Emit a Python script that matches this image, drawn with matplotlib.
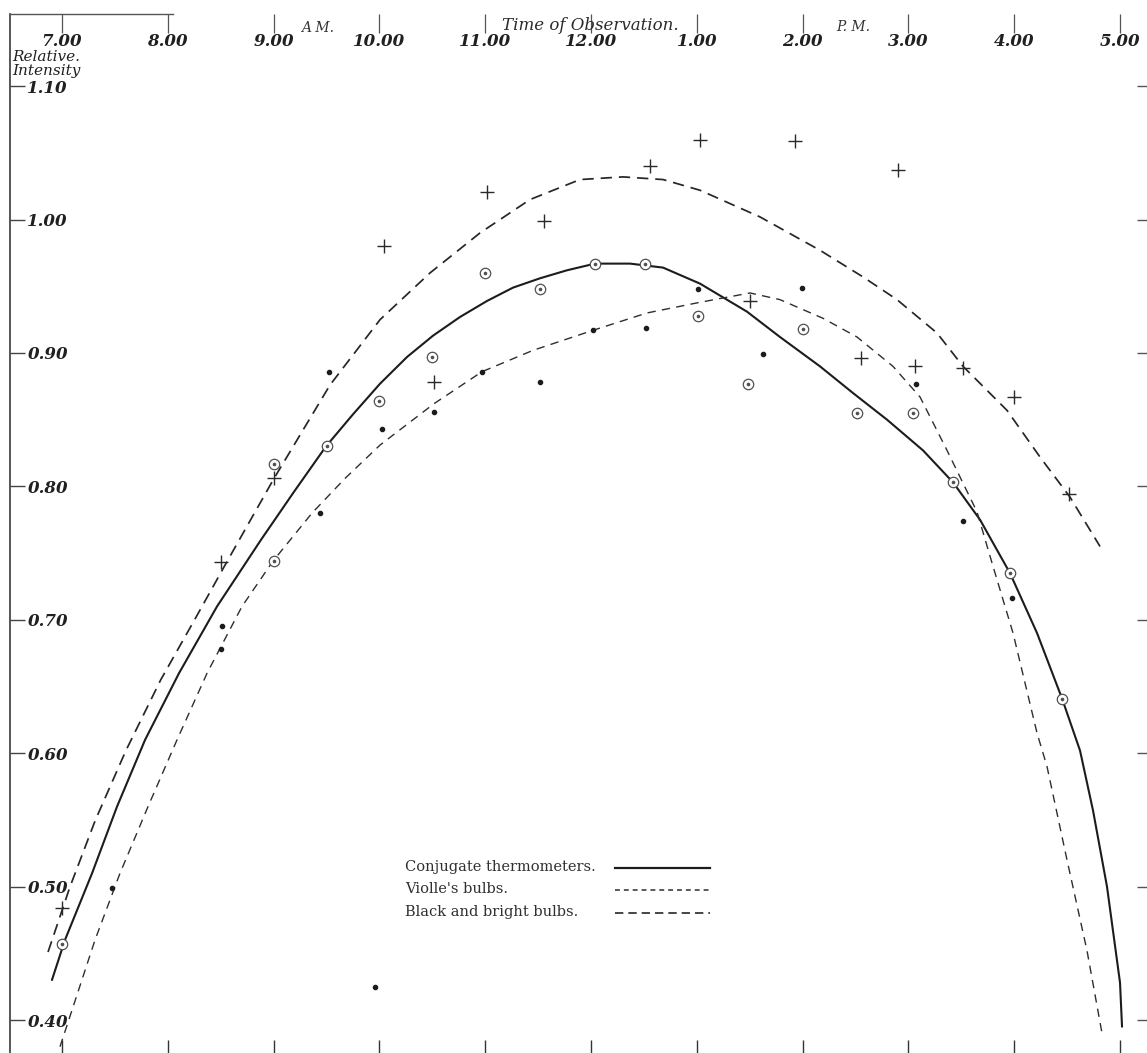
import matplotlib
matplotlib.use("Agg")
from matplotlib import pyplot as plt
from matplotlib.lines import Line2D
from matplotlib.ticker import FixedLocator

plt.rcParams["font.family"] = ["DejaVu Serif"]

# time axis: 7 a.m. to 5 p.m., kept as hours on a 24h clock
hour_ticks = [7, 8, 9, 10, 11, 12, 13, 14, 15, 16, 17]
hour_labels = ["7.00", "8.00", "9.00", "10.00", "11.00", "12.00",
               "1.00", "2.00", "3.00", "4.00", "5.00"]
intensity_ticks = [0.40, 0.50, 0.60, 0.70, 0.80, 0.90, 1.00, 1.10]
intensity_labels = ["0.40", "0.50", "0.60", "0.70", "0.80", "0.90", "1.00", "1.10"]

# observations
therm_t = [7.0, 9.0, 9.0, 9.5, 10.0, 10.5, 11.0, 11.52, 12.04, 12.51, 13.01,
           13.48, 14.0, 14.51, 15.04, 15.42, 15.96, 16.45]
therm_i = [0.457, 0.817, 0.744, 0.830, 0.864, 0.897, 0.960, 0.948, 0.967, 0.967,
           0.928, 0.877, 0.918, 0.855, 0.855, 0.803, 0.735, 0.641]

violle_t = [7.47, 8.51, 8.50, 9.44, 9.52, 9.96, 10.02, 10.52, 10.97, 11.52, 12.02,
            12.52, 13.01, 13.63, 13.99, 15.07, 15.52, 15.98]
violle_i = [0.499, 0.695, 0.678, 0.780, 0.886, 0.425, 0.843, 0.856, 0.886, 0.878,
            0.917, 0.919, 0.948, 0.899, 0.949, 0.877, 0.774, 0.716]

bright_t = [7.0, 8.5, 9.0, 10.04, 10.52, 11.02, 11.56, 12.56, 13.03, 13.5, 13.93,
            14.55, 14.9, 15.06, 15.52, 16.0, 16.52]
bright_i = [0.484, 0.743, 0.806, 0.980, 0.878, 1.021, 0.999, 1.040, 1.060, 0.939,
            1.059, 0.896, 1.037, 0.890, 0.889, 0.867, 0.794]

# smoothed curves through each set
therm_curve_t = [6.905, 7.028, 7.284, 7.52, 7.785, 8.106, 8.465, 8.881, 9.193,
                 9.495, 9.75, 10.006, 10.261, 10.507, 10.762, 11.017, 11.263,
                 11.518, 11.773, 12.038, 12.369, 12.681, 13.03,
                 13.474, 13.786, 14.164, 14.476, 14.798, 15.138, 15.422, 15.677,
                 15.96, 16.216, 16.452, 16.622, 16.745, 16.877, 17.0, 17.019]
therm_curve_i = [0.430, 0.460, 0.510, 0.560, 0.610, 0.660, 0.710, 0.760, 0.796,
                 0.830, 0.854, 0.877, 0.897, 0.913, 0.927, 0.939, 0.949,
                 0.956, 0.962, 0.967, 0.967, 0.964, 0.952,
                 0.931, 0.912, 0.890, 0.870, 0.850, 0.827, 0.803, 0.775,
                 0.735, 0.690, 0.641, 0.602, 0.557, 0.500, 0.428, 0.395]

violle_curve_t = [6.981, 7.312, 7.548, 7.813, 8.087, 8.371, 8.701, 8.994, 9.363,
                  9.675, 10.006, 10.516, 10.97, 11.452, 12.019, 12.529,
                  13.03, 13.503, 13.786, 14.193, 14.514, 14.854, 15.11, 15.365,
                  15.648, 15.8, 15.989, 16.216, 16.31, 16.499, 16.688, 16.83]
violle_curve_i = [0.380, 0.460, 0.510, 0.560, 0.610, 0.660, 0.710, 0.744, 0.780,
                  0.806, 0.831, 0.862, 0.886, 0.902, 0.917, 0.930,
                  0.938, 0.945, 0.940, 0.926, 0.912, 0.890, 0.867, 0.827,
                  0.781, 0.740, 0.690, 0.615, 0.590, 0.520, 0.452, 0.390]

bright_curve_t = [6.868, 7.076, 7.316, 7.604, 7.933, 8.267, 8.569, 9.004, 9.533,
                  10.006, 10.478, 10.951, 11.423, 11.896, 12.302,
                  12.681, 13.03, 13.597, 14.164, 14.571, 14.892, 15.27, 15.516,
                  15.932, 16.244, 16.527, 16.811]
bright_curve_i = [0.451, 0.500, 0.550, 0.602, 0.655, 0.702, 0.745, 0.806, 0.876,
                  0.925, 0.960, 0.990, 1.015, 1.030, 1.032,
                  1.030, 1.022, 1.002, 0.977, 0.957, 0.940, 0.915, 0.890,
                  0.857, 0.822, 0.792, 0.755]

W, H = 1147, 1053
fig = plt.figure(figsize=(W / 100, H / 100), dpi=100)
ax = fig.add_axes([10 / W, 0, 1137 / W, 1039 / H])
ax.set_xlim(6.5085, 17.255)
ax.set_ylim(0.3753, 1.1541)

ink = "#1c1c1c"
grey = "#505050"

ax.plot(therm_curve_t, therm_curve_i, color=ink, lw=1.5, solid_capstyle="round")
ax.plot(violle_curve_t, violle_curve_i, color="#2e2e2e", lw=1.0,
        linestyle=(0, (6.0, 4.5)))
ax.plot(bright_curve_t, bright_curve_i, color="#262626", lw=1.25,
        linestyle=(0, (6.5, 4.0)))

# circled dots for the thermometers
ax.plot(therm_t, therm_i, "o", ms=7.5, mfc="white", mec=grey, mew=0.9)
ax.plot(therm_t, therm_i, "o", ms=1.6, mfc=grey, mec=grey)
ax.plot(violle_t, violle_i, "o", ms=3.0, mfc=ink, mec=ink)
ax.plot(bright_t, bright_i, "+", ms=10, mec="#2a2a2a", mew=1.0)

# frame: left edge full height, top edge only over the first hour
for side in ("right", "bottom"):
    ax.spines[side].set_visible(False)
ax.spines["left"].set_color("#3a3a3a")
ax.spines["left"].set_linewidth(1.2)
ax.spines["top"].set_color("#555555")
ax.spines["top"].set_linewidth(1.0)
ax.spines["top"].set_bounds(6.5085, 8.05)

# hours: labelled ticks hanging from the top, plain ticks rising from the bottom
ax.set_xticks(hour_ticks, labels=hour_labels)
ax.xaxis.set_minor_locator(FixedLocator(hour_ticks))
ax.xaxis.remove_overlapping_locs = False
ax.tick_params(axis="x", which="major", top=True, bottom=False, labeltop=True,
               labelbottom=False, direction="in", length=13.5, width=0.9,
               color="#555555", pad=-20)
ax.tick_params(axis="x", which="minor", top=False, bottom=True, direction="in",
               length=9.5, width=1.0, color="#333333")
for lab in ax.get_xticklabels():
    lab.set_va("center")
    lab.set_fontsize(12)
    lab.set_fontstyle("italic")
    lab.set_fontweight("bold")
    lab.set_color("#202020")

# intensity: labelled ticks on the left, short marks on the right
ax.set_yticks(intensity_ticks, labels=intensity_labels)
ax.yaxis.set_minor_locator(FixedLocator(intensity_ticks))
ax.yaxis.remove_overlapping_locs = False
ax.tick_params(axis="y", which="major", left=True, right=False, direction="in",
               length=11, width=1.0, color="#444444", pad=-12.5)
ax.tick_params(axis="y", which="minor", left=False, right=True, direction="in",
               length=7, width=1.0, color="#555555")
for lab in ax.get_yticklabels():
    lab.set_ha("left")
    lab.set_fontsize(12)
    lab.set_fontstyle("italic")
    lab.set_fontweight("bold")
    lab.set_color("#202020")

# headings
fig.text(12 / W, 1 - 64 / H, "Relative.\nIntensity", fontsize=11, style="italic",
         ha="left", va="center", linespacing=0.95, color="#202020")
fig.text(318 / W, 1 - 28 / H, "A M.", fontsize=10, style="italic",
         ha="center", va="center", color="#333333")
fig.text(590 / W, 1 - 26 / H, "Time of Observation.", fontsize=12,
         style="italic", ha="center", va="center", color="#2a2a2a")
fig.text(853 / W, 1 - 27 / H, "P. M.", fontsize=10, style="italic",
         ha="center", va="center", color="#333333")

# key, text on the left and line sample on the right
key = [
    ("Conjugate thermometers.", dict(color=ink, lw=1.6, linestyle="-")),
    ("Violle's bulbs.", dict(color="#2e2e2e", lw=1.1, linestyle=(0, (3.2, 2.6)))),
    ("Black and bright bulbs.", dict(color="#262626", lw=1.2, linestyle=(0, (5.0, 3.0)))),
]
for row, (label, style) in enumerate(key):
    y = 0.179 - row * 0.0215
    ax.text(0.3474, y, label, transform=ax.transAxes, fontsize=10.5,
            ha="left", va="center", color="#303030")
    ax.add_line(Line2D([0.532, 0.6157], [y - 0.001, y - 0.001],
                       transform=ax.transAxes, **style))

fig.savefig("out.png", dpi=100, facecolor="white")
